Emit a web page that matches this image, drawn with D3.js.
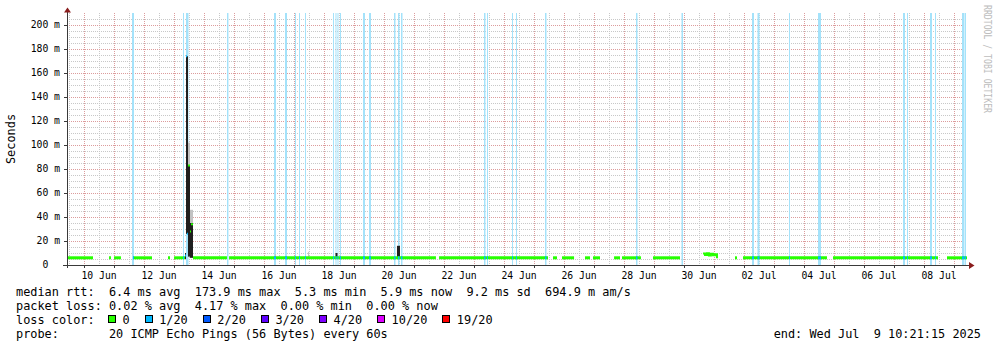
<!DOCTYPE html>
<html><head><meta charset="utf-8">
<script src="https://cdn.jsdelivr.net/npm/d3@7"></script>
<style>
body{margin:0;background:#fff}
text{font-family:"DejaVu Sans Mono",monospace;white-space:pre}
</style>
</head><body>
<svg id="c" width="997" height="347"></svg>
<script>
// ---------- DATA ----------
const timeRange = ["2025-06-09 10:21:15", "2025-07-09 10:21:15"];
const yMax = 210;
const yTickValues = [0, 20, 40, 60, 80, 100, 120, 140, 160, 180, 200];
const yTickLabels = ["0  ", "20 m", "40 m", "60 m", "80 m", "100 m", "120 m", "140 m", "160 m", "180 m", "200 m"];
const xLabelTimes = ["2025-06-10 12:00", "2025-06-12 12:00", "2025-06-14 12:00", "2025-06-16 12:00", "2025-06-18 12:00",
  "2025-06-20 12:00", "2025-06-22 12:00", "2025-06-24 12:00", "2025-06-26 12:00", "2025-06-28 12:00", "2025-06-30 12:00",
  "2025-07-02 12:00", "2025-07-04 12:00", "2025-07-06 12:00", "2025-07-08 12:00"];
const xLabels = ["10 Jun", "12 Jun", "14 Jun", "16 Jun", "18 Jun", "20 Jun", "22 Jun", "24 Jun", "26 Jun", "28 Jun",
  "30 Jun", "02 Jul", "04 Jul", "06 Jul", "08 Jul"];

// median rtt (ms) on stretches with data, loss 0
const segStart = ["2025-06-09 10:21", "2025-06-10 20:00", "2025-06-11 00:00", "2025-06-11 15:10", "2025-06-12 19:10",
  "2025-06-13 00:00", "2025-06-13 15:10", "2025-06-14 20:00", "2025-06-21 20:00", "2025-06-25 15:10", "2025-06-25 22:20",
  "2025-06-26 16:45", "2025-06-26 23:10", "2025-06-27 16:00", "2025-06-27 22:20", "2025-06-28 23:10", "2025-07-01 16:45",
  "2025-07-01 23:10", "2025-07-04 23:10", "2025-07-08 18:20"];
const segEnd = ["2025-06-10 07:10", "2025-06-10 21:30", "2025-06-11 05:30", "2025-06-12 06:20", "2025-06-12 20:45",
  "2025-06-13 08:45", "2025-06-14 18:20", "2025-06-21 17:30", "2025-06-25 11:10", "2025-06-25 18:20", "2025-06-26 08:00",
  "2025-06-26 20:45", "2025-06-27 04:45", "2025-06-27 20:45", "2025-06-28 13:30", "2025-06-29 20:45", "2025-07-01 18:20",
  "2025-07-04 18:20", "2025-07-08 11:10", "2025-07-09 10:21"];
const segMedian = [6.0, 6.0, 6.0, 6.0, 6.0, 6.0, 6.0, 6.0, 6.0, 6.0, 6.0, 6.0, 6.0, 6.0, 6.0, 6.0, 6.0, 6.0, 6.0, 6.0];

// 13 Jun latency spike (per sample)
const spikeTimes = ["2025-06-13 08:45", "2025-06-13 09:33", "2025-06-13 10:21", "2025-06-13 11:09", "2025-06-13 11:57",
  "2025-06-13 12:45", "2025-06-13 13:33", "2025-06-13 14:21"];
const spikeMedian = [8, 173.9, 26, 83, 83, 28, 34, 34];
const spikeLoss = [1, 1, 1, 0, 0, 0, 0, 0];
const spikeLow = [5, 26, 26, 7, 7, 6, 6, 6];
const spikeHigh = [10, 173.9, 173.9, 83, 83, 35, 35, 35];
const spikeMax = [10, 173.9, 173.9, 102, 102, 46, 46, 46];

// 30 Jun jitter
const jitterTimes = ["2025-06-30 15:10", "2025-06-30 16:45", "2025-06-30 18:20", "2025-06-30 19:55", "2025-06-30 21:30",
  "2025-06-30 23:10", "2025-07-01 00:45", "2025-07-01 02:20"];
const jitterMedian = [9.5, 8.3, 9.8, 8.0, 9.4, 8.2, 9.0, 6.5];

// small smoke blips
const blipStart = ["2025-06-16 08:45", "2025-06-17 11:10", "2025-06-18 09:10", "2025-06-20 10:20"];
const blipEnd = ["2025-06-16 09:35", "2025-06-17 12:00", "2025-06-18 10:45", "2025-06-20 12:45"];
const blipLow = [6, 6, 5, 6];
const blipHigh = [9, 11, 10, 16];
const blipDensity = [0.3, 0.3, 1, 1];

// loss events (1/20 loss)
const lossStart = ["2025-06-11 14:21", "2025-06-13 07:09", "2025-06-13 09:33", "2025-06-14 18:21", "2025-06-16 07:57",
  "2025-06-16 16:45", "2025-06-17 00:45", "2025-06-17 03:57", "2025-06-17 08:45", "2025-06-18 07:09", "2025-06-18 09:09",
  "2025-06-18 10:45", "2025-06-18 12:45", "2025-06-19 07:09", "2025-06-19 11:57", "2025-06-20 07:57", "2025-06-20 11:09",
  "2025-06-20 13:33", "2025-06-23 07:57", "2025-06-23 10:21", "2025-06-24 06:21", "2025-06-24 09:33", "2025-06-25 08:45",
  "2025-06-28 09:33", "2025-06-29 21:57", "2025-07-02 06:21", "2025-07-02 10:45", "2025-07-03 11:57", "2025-07-04 11:09",
  "2025-07-07 07:09", "2025-07-07 10:21", "2025-07-08 04:45", "2025-07-08 08:45", "2025-07-09 06:21", "2025-07-09 08:21"];
const lossEnd = ["2025-06-11 15:57", "2025-06-13 07:57", "2025-06-13 11:33", "2025-06-14 19:30", "2025-06-16 09:33",
  "2025-06-16 18:21", "2025-06-17 01:33", "2025-06-17 04:45", "2025-06-17 09:33", "2025-06-18 07:57", "2025-06-18 09:57",
  "2025-06-18 11:33", "2025-06-18 13:33", "2025-06-19 08:45", "2025-06-19 13:33", "2025-06-20 09:09", "2025-06-20 12:21",
  "2025-06-20 14:45", "2025-06-23 09:09", "2025-06-23 11:09", "2025-06-24 07:09", "2025-06-24 10:21", "2025-06-25 09:57",
  "2025-06-28 10:45", "2025-06-29 23:09", "2025-07-02 07:57", "2025-07-02 12:21", "2025-07-03 12:45", "2025-07-04 13:33",
  "2025-07-07 08:45", "2025-07-07 11:09", "2025-07-08 06:21", "2025-07-08 09:33", "2025-07-09 07:57", "2025-07-09 09:33"];

// legend
const rttValues = ["6.4 ms", "173.9 ms", "5.3 ms", "5.9 ms", "9.2 ms", "694.9 m"];
const rttNames = ["avg", "max", "min", "now", "sd", "am/s"];
const lossValues = ["0.02 %", "4.17 %", "0.00 %", "0.00 %"];
const lossNames = ["avg", "max", "min", "now"];
const lossLevels = ["0", "1/20", "2/20", "3/20", "4/20", "10/20", "19/20"];
const lossColors = ["#26ff00", "#00b8ff", "#0059ff", "#5e00ff", "#7e00ff", "#dd00ff", "#ff0000"];
const probeText = "20 ICMP Echo Pings (56 Bytes) every 60s";
const endText = "end: Wed Jul  9 10:21:15 2025";
const yTitle = "Seconds";
const watermark = "RRDTOOL / TOBI OETIKER";

// ---------- DRAW ----------
const pFull = d3.timeParse("%Y-%m-%d %H:%M:%S");
const p = d3.timeParse("%Y-%m-%d %H:%M");
const t0 = pFull(timeRange[0]), t1 = pFull(timeRange[1]);
const x = d3.scaleTime().domain([t0, t1]).range([67, 967]);
const y = d3.scaleLinear().domain([0, yMax]).range([265, 13]);
const svg = d3.select("#c");
const STEP = 48 * 60 * 1000;
const lossBg = "#a4e2fa";

// grid
const grid = svg.append("g").attr("shape-rendering", "crispEdges");
const minorY = d3.range(5, yMax, 5).filter(v => v % 20 !== 0);
grid.selectAll(".hmin").data(minorY).join("line")
  .attr("x1", 67).attr("x2", 967).attr("y1", d => Math.round(y(d)) + 0.5).attr("y2", d => Math.round(y(d)) + 0.5)
  .attr("stroke", "#c8c8c8").attr("stroke-dasharray", "1,1");
const noons = d3.timeHour.range(t0, t1).filter(d => d.getHours() === 12);
grid.selectAll(".vmin").data(noons).join("line")
  .attr("x1", d => Math.round(x(d)) + 0.5).attr("x2", d => Math.round(x(d)) + 0.5).attr("y1", 13).attr("y2", 265)
  .attr("stroke", "#c8c8c8").attr("stroke-dasharray", "1,1");
grid.selectAll(".hmaj").data(yTickValues.filter(v => v > 0)).join("line")
  .attr("x1", 67).attr("x2", 967).attr("y1", d => Math.round(y(d)) + 0.5).attr("y2", d => Math.round(y(d)) + 0.5)
  .attr("stroke", "#dc9c9c").attr("stroke-dasharray", "1,1");
const mids = d3.timeDay.range(t0, t1);
grid.selectAll(".vmaj").data(mids).join("line")
  .attr("x1", d => Math.round(x(d)) + 0.5).attr("x2", d => Math.round(x(d)) + 0.5).attr("y1", 13).attr("y2", 265)
  .attr("stroke", "#dc9c9c").attr("stroke-dasharray", "1,1");

// loss background
const losses = lossStart.map((s, i) => ({ s: p(s), e: p(lossEnd[i]) }));
svg.append("g").selectAll("rect").data(losses).join("rect")
  .attr("x", d => x(d.s)).attr("width", d => Math.max(1, x(d.e) - x(d.s)))
  .attr("y", y(yMax)).attr("height", y(0) - y(yMax)).attr("fill", lossBg);

// smoke
const spike = spikeTimes.map((t, i) => ({ t: p(t), m: spikeMedian[i], l: spikeLoss[i], lo: spikeLow[i], hi: spikeHigh[i], mx: spikeMax[i] }));
spike.forEach((d, i) => { d.e = i < spike.length - 1 ? spike[i + 1].t : new Date(+d.t + STEP); });
const smoke = svg.append("g");
smoke.selectAll(".light").data(spike).join("rect")
  .attr("x", d => x(d.t)).attr("width", d => x(d.e) - x(d.t))
  .attr("y", d => y(d.mx)).attr("height", d => y(d.lo) - y(d.mx)).attr("fill", "#c2c2c2");
smoke.selectAll(".dark").data(spike).join("rect")
  .attr("x", d => x(d.t)).attr("width", d => x(d.e) - x(d.t))
  .attr("y", d => y(d.hi)).attr("height", d => y(d.lo) - y(d.hi)).attr("fill", "#202020");
const blips = blipStart.map((s, i) => ({ s: p(s), e: p(blipEnd[i]), lo: blipLow[i], hi: blipHigh[i], dn: blipDensity[i] }));
smoke.selectAll(".blip").data(blips).join("rect")
  .attr("x", d => x(d.s)).attr("width", d => x(d.e) - x(d.s))
  .attr("y", d => y(d.hi)).attr("height", d => y(d.lo) - y(d.hi))
  .attr("fill", d => d.dn > 0.5 ? "#202020" : "#c4c4c4");

// median line
const med = svg.append("g").attr("fill", "none").attr("stroke-width", 3);
const segs = segStart.map((s, i) => ({ s: p(s), e: p(segEnd[i]), m: segMedian[i] }));
med.selectAll(".seg").data(segs).join("line")
  .attr("x1", d => x(d.s)).attr("x2", d => x(d.e)).attr("y1", d => y(d.m)).attr("y2", d => y(d.m))
  .attr("stroke", lossColors[0]);
// loss colouring on the median line
const overl = [];
losses.forEach(l => segs.forEach(s => {
  const a = Math.max(+l.s, +s.s), b = Math.min(+l.e, +s.e);
  if (b > a) overl.push({ s: new Date(a), e: new Date(b), m: s.m });
}));
med.selectAll(".ov").data(overl).join("line")
  .attr("x1", d => x(d.s)).attr("x2", d => Math.max(x(d.e), x(d.s) + 1)).attr("y1", d => y(d.m)).attr("y2", d => y(d.m))
  .attr("stroke", lossColors[1]);
// spike median: short marks per sample
med.selectAll(".sp").data(spike).join("line")
  .attr("x1", d => x(d.t)).attr("x2", d => x(d.e)).attr("y1", d => y(d.m)).attr("y2", d => y(d.m))
  .attr("stroke", d => lossColors[d.l]).attr("stroke-width", 2);
// jitter median
const jit = jitterTimes.map((t, i) => ({ t: p(t), m: jitterMedian[i] }));
jit.forEach((d, i) => { d.e = i < jit.length - 1 ? jit[i + 1].t : new Date(+d.t + STEP); });
med.append("path").datum(jit.flatMap(d => [[d.t, d.m], [d.e, d.m]]))
  .attr("d", d3.line().x(d => x(d[0])).y(d => y(d[1])))
  .attr("stroke", lossColors[0]).attr("stroke-width", 2);

// axes
const ax = svg.append("g").attr("shape-rendering", "crispEdges").attr("stroke", "#3a3a3a");
ax.append("line").attr("x1", 63).attr("x2", 969).attr("y1", 265.5).attr("y2", 265.5);
ax.append("line").attr("x1", 67.5).attr("x2", 67.5).attr("y1", 11).attr("y2", 268);
ax.selectAll(".yt").data(yTickValues.filter(v => v > 0)).join("line")
  .attr("x1", 64).attr("x2", 67).attr("y1", d => Math.round(y(d)) + 0.5).attr("y2", d => Math.round(y(d)) + 0.5);
ax.selectAll(".xt").data(mids).join("line")
  .attr("x1", d => Math.round(x(d)) + 0.5).attr("x2", d => Math.round(x(d)) + 0.5).attr("y1", 265).attr("y2", 268);
svg.append("path").attr("d", "M67.5,7.5 L64,12.5 L71,12.5 Z").attr("fill", "#8a1d1d");
svg.append("path").attr("d", "M974.5,265.5 L969,262 L969,269 Z").attr("fill", "#8a1d1d");

// tick labels
svg.append("g").selectAll("text").data(yTickValues).join("text")
  .attr("x", 60).attr("y", d => y(d) + 3.4).attr("text-anchor", "end")
  .attr("font-size", 9.75).attr("fill", "#000").text((d, i) => yTickLabels[i]);
svg.append("g").selectAll("text").data(xLabelTimes).join("text")
  .attr("x", d => x(p(d))).attr("y", 278.5).attr("text-anchor", "middle")
  .attr("font-size", 9.75).attr("fill", "#000").text((d, i) => xLabels[i]);

svg.append("text").attr("transform", "translate(15,139) rotate(-90)").attr("text-anchor", "middle")
  .attr("font-size", 11.9).attr("fill", "#000").text(yTitle);
svg.append("text").attr("transform", "translate(983.5,5) rotate(90)")
  .attr("font-size", 10.5).attr("textLength", 108).attr("lengthAdjust", "spacingAndGlyphs")
  .attr("fill", "#bdbdbd").text(watermark);

// legend
const LF = 11.88;
const leg = svg.append("g").attr("font-size", LF).attr("fill", "#000");
const line1 = "median rtt:  " + rttValues.map((v, i) => v + " " + rttNames[i]).join("  ");
const line2 = "packet loss: " + lossValues.map((v, i) => v + " " + lossNames[i]).join("  ");
leg.append("text").attr("x", 16).attr("y", 295.5).text(line1);
leg.append("text").attr("x", 16).attr("y", 309.5).text(line2);
leg.append("text").attr("x", 16).attr("y", 323.5).text("loss color:");
leg.append("text").attr("x", 16).attr("y", 337.5).text("probe:       " + probeText);
leg.append("text").attr("x", 981).attr("y", 337.5).attr("text-anchor", "end").text(endText);
let cx = 108;
lossLevels.forEach((lv, i) => {
  leg.append("rect").attr("x", cx + 0.5).attr("y", 315.5).attr("width", 7).attr("height", 7)
    .attr("fill", lossColors[i]).attr("stroke", "#000").attr("shape-rendering", "crispEdges");
  const t = leg.append("text").attr("x", cx + 14.5).attr("y", 323.5).text(lv);
  cx = cx + 14.5 + t.node().getComputedTextLength() + 15;
});
</script>
</body></html>
